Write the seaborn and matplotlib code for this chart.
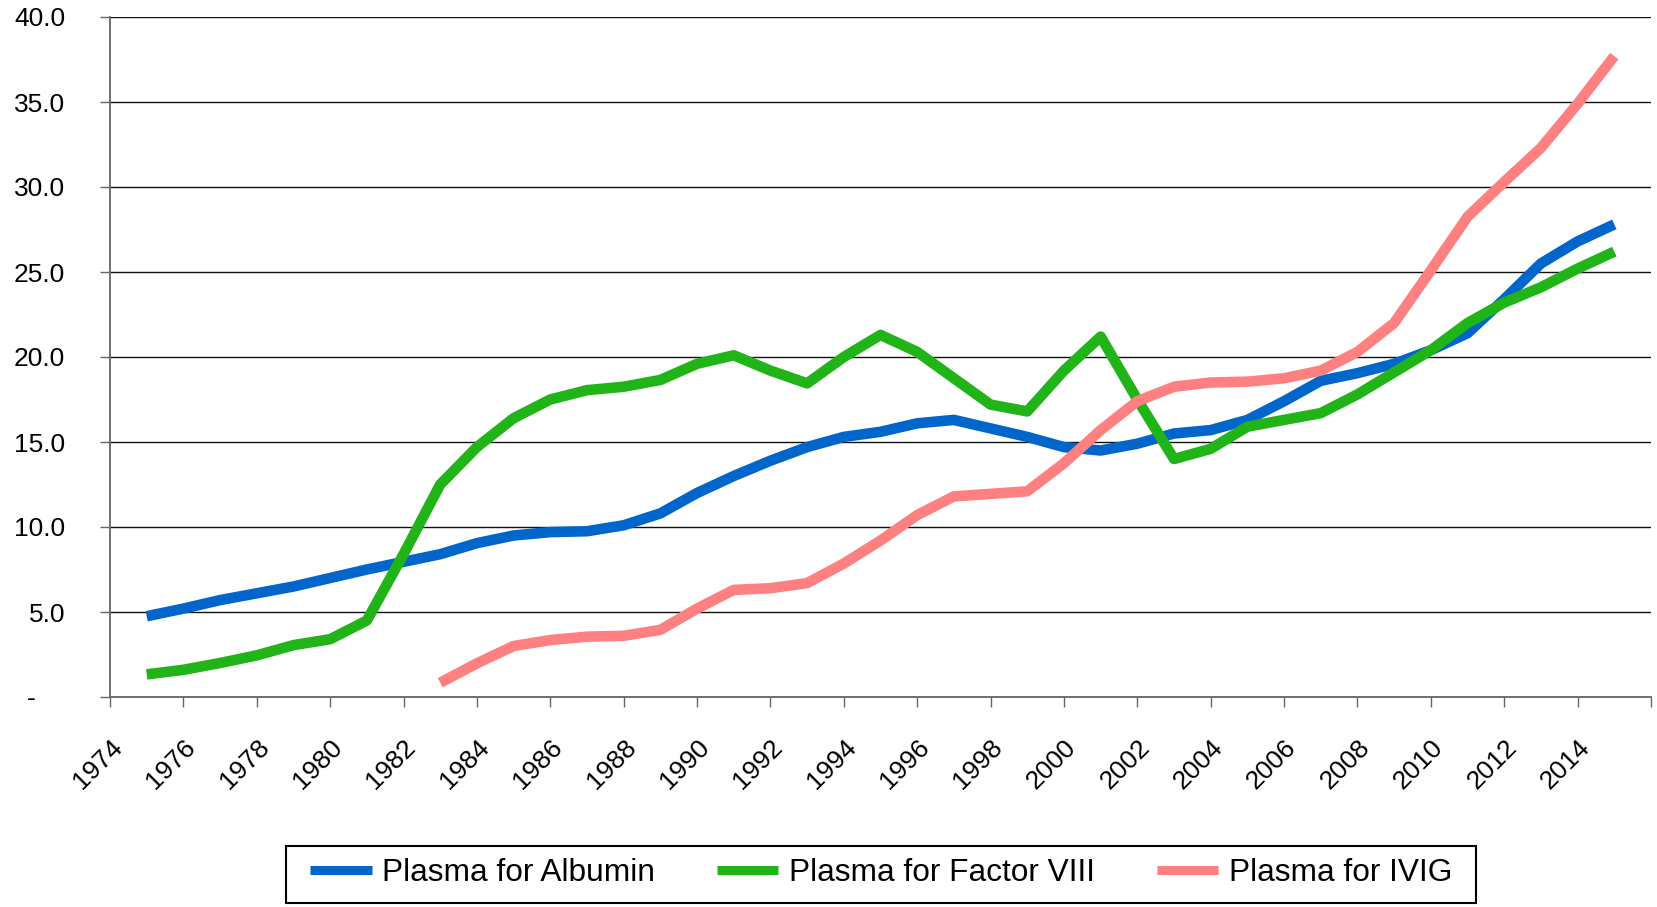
import matplotlib
matplotlib.use("Agg")
import matplotlib.pyplot as plt
import matplotlib.transforms as mtransforms
from matplotlib.lines import Line2D
from matplotlib.patches import Rectangle
import seaborn as sns
import pandas as pd

# plasma volumes by year
years = list(range(1975, 2016))
albumin = [4.75, 5.2, 5.7, 6.1, 6.5, 7.0, 7.5, 7.95, 8.4, 9.05,
           9.5, 9.7, 9.75, 10.1, 10.8, 12.0, 13.0, 13.9, 14.7, 15.3,
           15.6, 16.1, 16.3, 15.8, 15.3, 14.7, 14.5, 14.9, 15.5, 15.7,
           16.3, 17.4, 18.6, 19.05, 19.6, 20.4, 21.4, 23.4, 25.5, 26.8,
           27.8]
factor_viii = [1.33, 1.6, 2.0, 2.45, 3.05, 3.4, 4.5, 8.4, 12.5, 14.7,
               16.4, 17.5, 18.05, 18.25, 18.65, 19.6, 20.1, 19.2, 18.45, 20.0,
               21.3, 20.3, 18.75, 17.2, 16.8, 19.2, 21.2, 17.5, 14.0, 14.6,
               15.9, 16.3, 16.7, 17.8, 19.1, 20.4, 22.0, 23.2, 24.1, 25.2,
               26.2]
ivig_years = list(range(1983, 2016))
ivig = [0.84, 1.98, 3.0, 3.35, 3.55, 3.6, 3.95, 5.2, 6.3, 6.4,
        6.7, 7.85, 9.2, 10.7, 11.8, 11.95, 12.1, 13.75, 15.7, 17.4,
        18.25, 18.5, 18.55, 18.75, 19.2, 20.3, 22.0, 25.1, 28.25, 30.3,
        32.3, 34.9, 37.7]

series_names = ["Plasma for Albumin", "Plasma for Factor VIII", "Plasma for IVIG"]
colors = ["#0066CC", "#21B419", "#FF8080"]

x_ticks = list(range(1974, 2017, 2))
x_labels = [str(y) for y in range(1974, 2015, 2)] + [""]
y_ticks = [0, 5, 10, 15, 20, 25, 30, 35, 40]
y_labels = ["-    "] + [f"{v:.1f}" for v in y_ticks[1:]]

df = pd.concat([
    pd.DataFrame({"year": years, "value": albumin, "series": series_names[0]}),
    pd.DataFrame({"year": years, "value": factor_viii, "series": series_names[1]}),
    pd.DataFrame({"year": ivig_years, "value": ivig, "series": series_names[2]}),
], ignore_index=True)

sns.set_theme(style="white")
plt.rcParams["font.family"] = ["Liberation Sans", "DejaVu Sans"]
plt.rcParams["text.color"] = "black"

fig = plt.figure(figsize=(16.57, 9.07), dpi=100)
ax = fig.add_axes([110 / 1657, 1 - 697 / 907, 1541 / 1657, 680 / 907])

sns.lineplot(data=df, x="year", y="value", hue="series", hue_order=series_names,
             palette=colors, linewidth=7.6, legend=False, ax=ax,
             solid_capstyle="butt", solid_joinstyle="round")

ax.set_xlim(1974, 2016)
ax.set_ylim(0, 40)
ax.set_xlabel("")
ax.set_ylabel("")

ax.set_yticks(y_ticks)
ax.set_yticklabels(y_labels)
ax.set_xticks(x_ticks)
ax.set_xticklabels(x_labels, rotation=45, ha="right", va="top")

ax.yaxis.grid(True, color="#111111", linewidth=1.0)
ax.xaxis.grid(False)
ax.set_axisbelow(True)

for side in ["top", "right"]:
    ax.spines[side].set_visible(False)
for side in ["left", "bottom"]:
    ax.spines[side].set_color("#666666")
    ax.spines[side].set_linewidth(1.3)

ax.tick_params(axis="y", direction="out", length=7.2, width=1.0, color="#666666",
               labelsize=19, pad=25, labelcolor="black", left=True)
ax.tick_params(axis="x", direction="out", length=7.2, width=1.0, color="#666666",
               labelsize=19, pad=20, labelcolor="black", bottom=True)

offset = mtransforms.ScaledTranslation(0.17, 0, fig.dpi_scale_trans)
for lab in ax.get_xticklabels():
    lab.set_transform(lab.get_transform() + offset)

# legend box drawn separately so it can be wider than the entries
fig.patches.append(Rectangle((286 / 1657, 1 - 903 / 907), 1190 / 1657, 57 / 907,
                             transform=fig.transFigure, facecolor="white",
                             edgecolor="black", linewidth=1.5, zorder=0))
handles = [Line2D([0], [0], color=c, linewidth=6.5, solid_capstyle="butt") for c in colors]
fig.legend(handles, series_names, loc="center", bbox_to_anchor=(0.5317, 0.0375),
           ncol=3, frameon=False, fontsize=22.8, handlelength=1.95, handletextpad=0.33,
           columnspacing=1.95, borderpad=0.3, labelcolor="black")

fig.savefig("out.png", dpi=100, facecolor="white")
